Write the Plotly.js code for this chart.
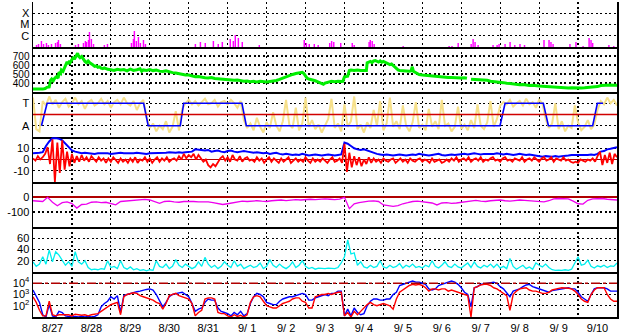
<!DOCTYPE html>
<html><head><meta charset="utf-8">
<script src="https://cdn.plot.ly/plotly-3.0.1.min.js"></script>
<style>html,body{margin:0;padding:0;background:#fff}#chart{width:628px;height:334px}</style>
</head><body><div id="chart"></div>
<script>
// ---- time axis (hours since 8/27 00:00) ----
const dayLabels = ['8/27','8/28','8/29','8/30','8/31','9/ 1','9/ 2','9/ 3','9/ 4','9/ 5','9/ 6','9/ 7','9/ 8','9/ 9','9/10'];
const dayLabelHours = [12,36,60,84,108,132,156,180,204,228,252,276,300,324,348];

// ---- panel 1: X-ray flux (W/m2) ----
const xrayHours = [2.2,3.4,5.2,6.5,8.3,9.5,11.4,13.9,15.1,15.7,16.9,26.2,28.0,31.1,32.3,33.0,34.2,34.8,36.0,37.3,44.0,45.9,
  60.7,61.9,62.5,63.7,65.0,66.2,68.1,69.3,100.1,103.2,106.2,111.2,114.2,116.7,121.6,123.5,124.7,126.6,129.0,139.5,
  167.2,168.5,170.3,173.4,175.8,182.9,184.1,185.4,189.7,196.8,198.0,207.2,207.9,209.1,210.3,228.2,256.5,258.3,262.1,
  270.1,271.3,272.5,274.4,283.6,286.1,287.3,291.0,294.1,297.0,300.2,303.0,315.0,318.1,319.3,320.6,331.0,334.7,339.1,
  342.8,344.0,345.0,355.0,358.0];
const xrayFlux = [1.5e-7,1.85e-7,3.4e-7,1.85e-7,2.27e-7,1.5e-7,1.85e-7,2.27e-7,2.78e-7,4.2e-7,1.85e-7,1.5e-7,1.85e-7,2.27e-7,3.4e-7,2.78e-7,4.2e-7,2.15e-6,5.1e-7,1.85e-7,1.5e-7,1.85e-7,
  2.27e-7,5.1e-7,2.6e-6,3.4e-7,7.7e-7,2.27e-7,4.2e-7,1.85e-7,1.85e-7,2.78e-7,2.27e-7,3.4e-7,1.85e-7,2.78e-7,5.1e-7,3.4e-7,1.17e-6,6.3e-7,2.78e-7,1.5e-7,
  4.2e-7,2.27e-7,1.85e-7,1.85e-7,1.5e-7,2.27e-7,3.4e-7,2.78e-7,2.27e-7,2.27e-7,1.5e-7,2.78e-7,4.2e-7,3.4e-7,1.85e-7,1.23e-7,1.23e-7,1.23e-7,2.27e-7,
  1.85e-7,5.1e-7,2.78e-7,1.5e-7,1.5e-7,1.5e-7,1.85e-7,1.85e-7,2.78e-7,1.5e-7,1.85e-7,1.5e-7,4.2e-7,4.2e-7,2.78e-7,1.85e-7,1.85e-7,2.78e-7,1.23e-7,
  6.3e-7,4.2e-7,2.27e-7,1.5e-7,1.23e-7];

// ---- panel 2: solar wind speed (km/s) ----
const speedHours = [0,2,4,6,7.5,8.5,10,10.8,11.5,12.5,13.5,14.5,15.5,16,17,17.5,18.5,19.5,20,21,21.5,22.5,23,24,25,25.5,26.5,27.5,28,29,30,31,32,33,34,35,36,37,38,39,40,41,42,43,44,46,48,50,52,54,56,58,60,62,64,66,67,68,70,72,74,76,78,80,82,84,86,88,90,92,94,96,98,100,102,104,106,108,110,112,114,116,118,120,122,124,126,128,130,132,134,136,138,140,142,144,146,148,150,152,154,156,158,160,162,164,166,167,168,169,170,172,174,176,178,179,180,182,184,186,188,190,191,192,193,194,195,196,198,200,202,204,205.5,206,207,208,209,210,211,212,213,214,215,216,218,219,220,221,222,223,224,225,226,228,230,232,233,233.8,234.5,235.5,237,238,240,242,244,246,248,250,252,254,256,258,260,262,264,266,267.5,268.5,270,272,274,276,278,280,282,284,286,288,290,292,294,296,298,300,302,304,306,308,310,312,314,316,318,320,322,324,326,328,330,332,334,336,338,340,342,344,346,348,350,352,354,356,358,360];
const speedKms = [333,330,335,332,338,352,356,430,445,425,455,470,455,520,505,545,530,565,600,635,610,645,630,670,690,665,705,730,700,680,695,660,640,625,645,625,615,600,585,590,575,580,565,560,568,552,548,540,552,545,550,535,555,540,548,558,530,545,540,550,538,545,532,528,535,522,515,510,502,498,490,488,475,470,472,462,458,455,460,450,446,448,440,442,435,430,432,425,420,422,415,418,412,420,415,410,416,420,428,440,455,470,485,495,505,512,518,505,470,452,445,438,425,410,398,385,400,412,418,414,420,416,418,468,472,476,540,545,538,545,540,535,538,625,635,640,628,645,650,638,632,645,630,640,625,615,605,612,595,578,565,545,540,535,538,530,535,580,530,518,505,495,490,486,480,482,472,470,466,463,460,462,458,462,455,458,452,null,442,440,436,432,426,430,420,418,412,410,404,398,392,388,385,380,382,375,372,374,368,367,365,362,358,356,352,350,347,348,345,346,343,345,344,346,348,350,352,360,372,375,370,378,374,376];

// ---- panel 3: IMF sector ----
const phiSector = [
  1.5,-1.3,-1.5,1.2,0.8,1.6,0.9,1.3,0.6,1.1,
  1.4,0.7,1.0,1.5,0.9,1.2,0.5,1.1,1.3,0.8,
  1.0,1.4,0.9,1.2,0.6,1.1,1.3,0.9,1.5,1.0,
  0.8,1.2,0.4,1.0,1.3,-0.2,-1.2,-0.8,-1.5,-1.0,
  -1.3,-0.6,-1.6,-1.1,0.3,-1.4,0.5,1.0,1.3,0.9,
  1.2,0.8,1.1,1.4,0.9,1.0,1.3,0.7,1.1,1.2,
  0.9,1.3,1.0,0.6,1.2,-0.5,-1.2,-0.8,-1.4,-0.3,
  -1.1,-1.6,-0.7,-1.2,0.2,-1.0,-1.5,-0.6,1.3,-0.9,
  -1.2,0.6,-1.4,-0.8,1.5,-1.1,-0.5,-1.3,-0.9,-1.6,
  -1.0,-0.4,1.4,-1.2,-0.8,-1.5,0.9,-1.1,-0.6,1.6,
  -1.3,-0.9,-1.6,-0.7,-1.2,0.4,-1.0,1.2,-1.4,-0.8,
  1.5,-1.1,-0.6,-1.3,0.8,-1.0,-1.5,-0.7,1.1,-1.2,
  -0.9,-1.4,0.5,-1.1,-0.6,-1.3,1.3,-1.0,-0.8,-1.5,
  -1.1,0.7,-1.3,-0.9,-1.4,-0.5,-1.2,0.9,-1.0,-1.3,
  -0.7,1.2,-1.1,-0.4,0.8,1.1,0.9,1.3,0.7,1.0,
  1.2,0.8,1.4,0.9,1.1,0.6,1.3,1.0,-0.4,-1.2,
  -0.8,1.0,-1.3,-0.6,-1.5,-1.0,-1.2,0.8,-0.7,-1.4,
  -1.1,-0.5,-1.3,-0.9,0.4,1.2,0.9,1.5,1.0,1.3,
  0.8];
const sectorHours = [5.2,8.7,68.2,71.0,90.8,92.9,128.8,131.5,287.9,291.0,314.6,317.7,345.0,347.9,351.4];
const sectorLevel = [-1,1,1,-1,-1,1,1,-1,-1,1,1,-1,-1,1,1];

// ---- panel 4: IMF Bt (2 h steps) and Bz (1.5 h steps), nT ----
const btValues = [
  5.5,5.5,6,6.5,12,16,19,19,18.5,17,
  14,11,8,7,6,5.5,6,5.5,5.5,5,
  5.5,5.5,6,5.5,5,5.5,5.5,6,5.5,5.5,
  5,5.5,6,5.5,5.5,5,5.5,5.5,6,6,
  5.5,6,6.5,6,6,6.5,6,6.5,6.5,7,
  9,8.5,8.5,8,8.5,7,7.5,8,7,6.5,
  7.5,8,7,6.5,7,7.5,7,6.5,6,6.5,
  6,5.5,6,5,5.5,6,5,4.5,5,4.5,
  4,4.5,4,5,4,3.5,4,4.5,4,3.5,
  4,4.5,4,3.5,4,4.5,15,14,12,10,
  9,8.5,9,8,7,5.5,5,4.5,4,4.5,
  4,3.5,4,4.5,4,3.5,4,4.5,4,5,
  4.5,4,3.5,4,4.5,5,4,3.5,4,4.5,
  4,4.5,5,5,4.5,5,5.5,5,4.5,5,
  5,4.5,5,5.5,5,4.5,5,4.5,4,4.5,
  5,4.5,4,4.5,4,3.5,3,2.5,3,2.5,
  2.5,3,2.5,3,3,3.5,4,4,4,3.5,
  4,4,4.5,4,5,7,7.5,9,9.5,10.5,
  11];
const bzValues = [
  1,-1,3,0,2,5,11,-4,18,-20,
  15,-12,17,-9,7,-6,5,-3,3,-2,
  4,-1,2,-2,3,0,-2,2,-1,1,
  -3,1,-2,2,-1,-3,1,-2,0,-3,
  1,-2,2,-3,0,-1,2,-2,1,-3,
  0,2,-2,1,-1,2,-2,0,1,-1,
  3,0,5,1,4,2,5,0,4,1,
  -2,0,-5,-7,-4,-6,-2,1,3,-1,
  2,-2,4,0,-1,3,-2,1,2,-1,
  0,-2,2,-1,1,-3,0,2,-2,1,
  -1,-3,1,-2,0,2,-3,-1,1,-2,
  0,-2,2,-1,-3,1,-2,0,-2,1,
  -1,-3,0,2,-2,-1,1,-3,14,-11,
  6,-7,3,-5,2,-6,0,-4,2,-3,
  1,-2,0,-3,1,-1,-2,0,1,-3,
  -1,1,-2,0,-3,1,-1,-2,0,1,
  -2,0,-1,-3,1,-2,-1,0,-3,-2,
  0,-2,1,-1,2,-2,0,1,-1,2,
  -2,0,1,-1,2,-2,0,-1,1,2,
  -1,0,-2,1,2,-1,0,-2,1,0,
  -1,2,-2,0,1,-1,2,0,-2,1,
  2,-1,0,2,-2,1,0,-1,2,-1,
  0,-2,-3,-2,-3,0,-1,-2,0,-1,
  1,-2,3,7,-5,4,-3,6,-4,5,
  2];

// ---- panel 5: Dst (nT), 3 h steps ----
const dstValues = [
  -25,-28,-30,-2,-35,-58,-38,-32,-44,-74,
  -50,-48,-35,-32,-38,-35,-45,-52,-30,-27,
  -28,-20,-17,-16,-20,-30,-42,-30,-28,-32,
  -35,-30,-28,-30,-33,-30,-32,-38,-45,-50,
  -45,-38,-32,-28,-30,-26,-25,-28,-30,-25,
  -22,-20,-24,-20,-18,-20,-16,-15,-18,-15,
  -12,-15,-18,-14,-2,-78,-45,-38,-32,-28,
  -26,-30,-53,-60,-63,-58,-45,-38,-30,-28,
  -32,-35,-40,-53,-40,-38,-42,-40,-35,-30,
  -25,-22,-28,-30,-25,-22,-20,-25,-28,-24,
  -20,-22,-25,-28,-30,-32,-25,-12,-10,-10,
  -12,-28,-45,-47,-22,-12,-10,-10,-15,-20,
  -20];

// ---- panel 6: cyan index, 2 h steps ----
const cyanValues = [
  18,10,14,27,14,39,18,36,30,20,
  12,18,10,36,18,14,20,8,4,5,
  4,6,5,20,8,10,6,20,8,5,
  9,4,6,3,4,2,4,3,20,10,
  8,14,6,10,22,12,8,14,10,6,
  9,18,10,26,14,8,12,6,10,18,
  12,8,20,10,14,6,9,12,8,10,
  16,6,10,22,12,8,14,9,6,10,
  18,8,12,20,10,6,8,5,7,6,
  6,7,6,6,8,16,27,57,32,34,
  12,18,9,7,12,8,10,20,9,7,
  12,8,10,15,7,12,9,14,8,10,
  7,12,9,20,10,7,12,18,10,8,
  14,9,7,12,16,8,18,10,7,12,
  9,14,8,14,7,10,6,24,10,5,
  8,12,6,9,5,16,12,9,14,8,
  4,3,3.5,3,4,3,5,16,27,12,
  14,21,10,7,11,9,12,8,11,10,
  16];

// ---- panel 7: electron flux, log10 values, 2 h steps ----
const electronBlueLog = [
  3.4,2.9,2.3,1.2,1.0,2.1,1.1,1.0,1.5,1.4,
  1.1,1.05,1.0,1.05,1.0,1.05,1.0,1.05,1.0,1.05,
  1.2,1.9,2.2,2.4,2.8,2.6,2.9,1.4,2.9,3.0,
  3.1,3.2,3.25,3.3,3.4,3.45,3.5,3.4,3.0,2.4,
  1.9,2.3,2.8,3.0,3.1,3.15,3.2,3.0,2.8,2.2,
  1.5,1.7,1.8,2.3,2.6,2.5,2.5,1.8,1.5,1.4,
  1.3,1.1,1.4,1.2,1.5,1.1,1.3,2.2,2.8,3.1,
  3.0,2.8,2.3,2.2,2.1,2.1,2.4,2.6,2.7,2.8,
  2.8,2.9,3.0,3.1,3.0,2.5,2.5,2.7,2.8,2.9,
  3.0,2.9,3.1,3.1,3.3,3.3,1.1,1.7,1.1,1.8,
  1.4,1.2,1.3,2.0,2.4,2.6,2.6,2.5,2.5,2.6,
  2.6,3.0,3.2,3.8,3.9,4.0,4.1,4.2,4.1,4.1,
  4.0,3.9,3.5,3.4,3.5,3.8,3.9,4.0,4.1,4.2,
  4.1,3.9,3.6,3.2,3.0,1.9,3.6,3.7,3.9,3.95,
  3.95,4.0,4.1,4.0,3.7,3.5,3.1,2.8,3.3,3.4,
  3.5,3.7,3.85,3.9,3.7,3.6,3.5,3.4,3.3,3.2,
  3.35,3.4,3.5,3.55,3.6,3.6,3.5,3.5,3.2,2.8,
  2.6,2.4,3.0,3.5,3.6,3.6,3.6,3.5,3.3,3.3,
  3.3];
const electronRedLog = [
  2.8,2.3,1.6,1.1,1.1,2.4,1.2,1.1,1.2,1.2,
  1.15,1.2,1.1,1.25,1.2,1.15,1.2,1.1,1.2,1.25,
  1.3,1.5,1.7,1.9,2.1,2.2,2.3,1.2,2.8,3.0,
  3.1,3.15,3.1,2.9,2.8,2.7,2.6,2.5,2.3,2.2,
  1.7,2.2,2.9,3.0,3.1,2.9,2.8,2.7,2.6,2.2,
  1.1,1.4,1.6,2.6,2.7,2.7,2.6,1.4,1.3,1.3,
  1.1,1.0,1.2,1.05,1.15,1.0,1.2,2.3,2.8,2.9,
  2.8,2.4,2.0,1.9,1.8,1.8,2.0,2.2,2.3,2.4,
  2.6,2.7,2.7,2.4,2.3,1.8,1.8,2.8,2.9,3.0,
  3.0,3.1,3.0,3.1,3.2,3.2,1.1,1.4,1.0,1.5,
  1.2,1.5,1.8,2.1,2.3,2.1,2.0,2.1,2.2,2.1,
  2.0,1.7,2.6,3.2,3.4,3.6,3.8,3.9,3.85,3.9,
  3.8,3.6,3.3,3.5,3.5,3.4,3.5,3.5,3.3,3.4,
  3.3,3.2,3.1,3.0,2.9,1.0,3.6,3.7,3.85,3.9,
  3.9,3.8,3.6,3.5,3.3,3.1,2.9,1.6,3.0,3.3,
  3.5,3.55,3.6,3.4,3.3,3.3,3.2,3.1,3.1,3.2,
  3.4,3.5,3.55,3.6,3.6,3.55,3.5,3.3,3.0,2.6,
  2.4,2.3,3.0,3.4,3.6,3.6,3.6,3.0,2.6,2.4,
  2.4];

// ---- axis labels ----
const xrayTicks = [1e-6,1e-5,1e-4], xrayTickText = ['C','M','X'];
const speedTicks = [400,500,600,700];
const sectorTicks = [1,-1], sectorTickText = ['T','A'];
const bTicks = [10,0,-10], bTickText = ['10','0','-10'];
const dstTicks = [0,-100], dstTickText = ['0','-100'];
const cyanTicks = [20,40,60];
const eTicks = [4,3,2], eTickText = ['10<sup>4</sup>','10<sup>3</sup>','10<sup>2</sup>'];
const electronThreshold = 4;

const FONT = {family:'Liberation Sans, Arial, sans-serif', size:11, color:'#000'};
const SMALLFONT = {family:'Liberation Sans, Arial, sans-serif', size:10, color:'#000'};
const GRID = {gridcolor:'#000', gridwidth:1.2, griddash:'2px,2.5px'};
const h = 1/7;

function yAxis(n, extra){
  return Object.assign({
    domain:[(7-n)*h, (8-n)*h], anchor: n===1?'x':'x'+n,
    showline:true, linecolor:'#000', linewidth:1.5, mirror:true,
    showgrid:true, gridcolor:GRID.gridcolor, gridwidth:GRID.gridwidth, griddash:GRID.griddash,
    zeroline:false, ticks:'', tickfont:FONT, tickmode:'array', fixedrange:true
  }, extra);
}
function xAxis(n){
  return {
    domain:[0,1], anchor: n===1?'y':'y'+n, range:[0,360],
    showline:true, linecolor:'#000', linewidth:2, mirror:false,
    showgrid:false, zeroline:false, ticks:'',
    tickmode:'array', tickvals:dayLabelHours, ticktext:dayLabels,
    showticklabels: n===7, tickfont:FONT,
    minor:{tickmode:'linear', tick0:0, dtick:24, showgrid:true, ticks:'',
           gridcolor:GRID.gridcolor, gridwidth:GRID.gridwidth, griddash:GRID.griddash},
    fixedrange:true
  };
}

const traces = [
  {type:'bar', x:xrayHours, y:xrayFlux, xaxis:'x', yaxis:'y', width:0.9,
   marker:{color:'#ff00ff', line:{width:0}}},
  {type:'scatter', mode:'lines', x:speedHours, y:speedKms, xaxis:'x2', yaxis:'y2',
   connectgaps:false, line:{color:'#00ee00', width:3}},
  {type:'scatter', mode:'lines', x0:0, dx:2, y:phiSector, xaxis:'x3', yaxis:'y3',
   line:{color:'#f6e08a', width:2}},
  {type:'scatter', mode:'lines', x:sectorHours, y:sectorLevel, xaxis:'x3', yaxis:'y3',
   line:{color:'#0000ff', width:1.6}},
  {type:'scatter', mode:'lines', x0:0, dx:2, y:btValues, xaxis:'x4', yaxis:'y4',
   line:{color:'#0000ff', width:2}},
  {type:'scatter', mode:'lines', x0:0, dx:1.5, y:bzValues, xaxis:'x4', yaxis:'y4',
   line:{color:'#ff0000', width:1.8}},
  {type:'scatter', mode:'lines', x0:0, dx:3, y:dstValues, xaxis:'x5', yaxis:'y5',
   line:{color:'#ee00ee', width:1.3}},
  {type:'scatter', mode:'lines', x0:0, dx:2, y:cyanValues, xaxis:'x6', yaxis:'y6',
   line:{color:'#00eeee', width:1.3}},
  {type:'scatter', mode:'lines', x0:0, dx:2, y:electronBlueLog, xaxis:'x7', yaxis:'y7',
   line:{color:'#0000ff', width:1.4}},
  {type:'scatter', mode:'lines', x0:0, dx:2, y:electronRedLog, xaxis:'x7', yaxis:'y7',
   line:{color:'#ff0000', width:1.4}}
];

const layout = {
  width:628, height:334, margin:{l:33, r:11, t:2, b:17},
  paper_bgcolor:'#fff', plot_bgcolor:'#fff', showlegend:false, font:FONT,
  xaxis:xAxis(1), xaxis2:xAxis(2), xaxis3:xAxis(3), xaxis4:xAxis(4),
  xaxis5:xAxis(5), xaxis6:xAxis(6), xaxis7:xAxis(7),
  yaxis: yAxis(1,{type:'log', range:[-7,-3], tickvals:xrayTicks, ticktext:xrayTickText}),
  yaxis2:yAxis(2,{range:[300,800], tickvals:speedTicks, ticktext:speedTicks.map(String), tickfont:SMALLFONT}),
  yaxis3:yAxis(3,{range:[-2,2], tickvals:sectorTicks, ticktext:sectorTickText}),
  yaxis4:yAxis(4,{range:[-20,20], tickvals:bTicks, ticktext:bTickText,
                  zeroline:true, zerolinecolor:'#b00000', zerolinewidth:1.3}),
  yaxis5:yAxis(5,{range:[-200,100], tickvals:dstTicks, ticktext:dstTickText,
                  zeroline:true, zerolinecolor:'#b00000', zerolinewidth:1.3}),
  yaxis6:yAxis(6,{range:[0,80], tickvals:cyanTicks, ticktext:cyanTicks.map(String)}),
  yaxis7:yAxis(7,{range:[1,5], tickvals:eTicks, ticktext:eTickText}),
  shapes:[
    {type:'line', xref:'x3 domain', x0:0, x1:1, yref:'y3', y0:0, y1:0,
     line:{color:'#d00000', width:1.5}},
    {type:'line', xref:'x7 domain', x0:0, x1:1, yref:'y7', y0:electronThreshold, y1:electronThreshold,
     line:{color:'#b00000', width:1.5, dash:'9px,3px,3px,3px'}}
  ]
};

Plotly.newPlot('chart', traces, layout, {staticPlot:true, displayModeBar:false});
</script></body></html>
